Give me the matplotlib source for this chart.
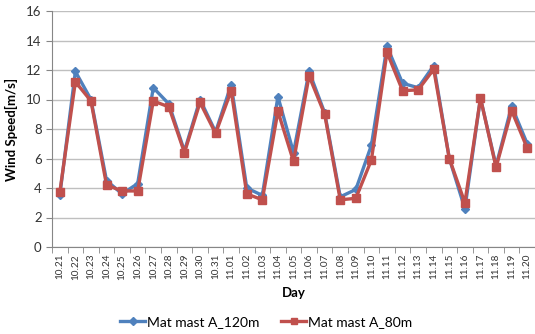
import matplotlib.pyplot as plt
import numpy as np

plt.rcParams['font.family'] = ['Lato', 'DejaVu Sans']

days = ["10.21", "10.22", "10.23", "10.24", "10.25", "10.26", "10.27", "10.28",
        "10.29", "10.30", "10.31", "11.01", "11.02", "11.03", "11.04", "11.05",
        "11.06", "11.07", "11.08", "11.09", "11.10", "11.11", "11.12", "11.13",
        "11.14", "11.15", "11.16", "11.17", "11.18", "11.19", "11.20"]

mast_120m = [3.5, 11.9, 10.0, 4.5, 3.6, 4.3, 10.8, 9.7, 6.5, 10.0, 7.8, 11.0,
             4.0, 3.5, 10.2, 6.4, 11.9, 9.1, 3.4, 3.9, 6.9, 13.6, 11.1, 10.8,
             12.3, 6.0, 2.6, 10.1, 5.5, 9.55, 7.0]
mast_80m = [3.7, 11.2, 9.9, 4.2, 3.8, 3.8, 9.9, 9.5, 6.4, 9.8, 7.7, 10.6,
            3.6, 3.2, 9.2, 5.8, 11.6, 9.0, 3.2, 3.3, 5.9, 13.2, 10.6, 10.65,
            12.05, 6.0, 3.0, 10.1, 5.4, 9.25, 6.7]

fig = plt.figure(figsize=(5.35, 3.34), dpi=100)
ax = fig.add_axes([52 / 535, 1 - 247 / 334, 483 / 535, 236 / 334])

x = np.arange(len(days))
ax.plot(x, mast_120m, color='#4F81BD', lw=2.4, marker='D', ms=4.5,
        label='Mat mast A_120m', zorder=3)
ax.plot(x, mast_80m, color='#C0504D', lw=2.4, marker='s', ms=5.5,
        label='Mat mast A_80m', zorder=4)

ax.set_xlim(-0.5, len(days) - 0.5)
ax.set_ylim(0, 16)
ax.set_yticks(range(0, 17, 2))
ax.tick_params(axis='y', labelsize=9.5, length=4, color='#868686', labelcolor='#333333')
ax.yaxis.grid(True, color='#BFBFBF', lw=1)
ax.set_axisbelow(True)

ax.set_xticks(x)
ax.set_xticklabels(days, rotation=90, fontsize=7.2, color='#333333')
ax.tick_params(axis='x', which='major', length=0, pad=5)
ax.set_xticks(np.arange(-0.5, len(days), 1.0), minor=True)
ax.tick_params(axis='x', which='minor', length=4, color='#868686')

for s in ['top', 'right']:
    ax.spines[s].set_visible(False)
for s in ['left', 'bottom']:
    ax.spines[s].set_color('#868686')

ax.set_xlabel('Day', fontsize=9.5, fontweight='bold', labelpad=5)
ax.set_ylabel('Wind Speed[m/s]', fontsize=9.5, fontweight='bold', labelpad=6)

fig.legend(loc='center', bbox_to_anchor=(266 / 535, 1 - 322 / 334), ncol=2,
           frameon=False, fontsize=10, handlelength=1.8, columnspacing=1.6,
           handletextpad=0.1, markerscale=0.8)

fig.savefig('out.png', dpi=100)
